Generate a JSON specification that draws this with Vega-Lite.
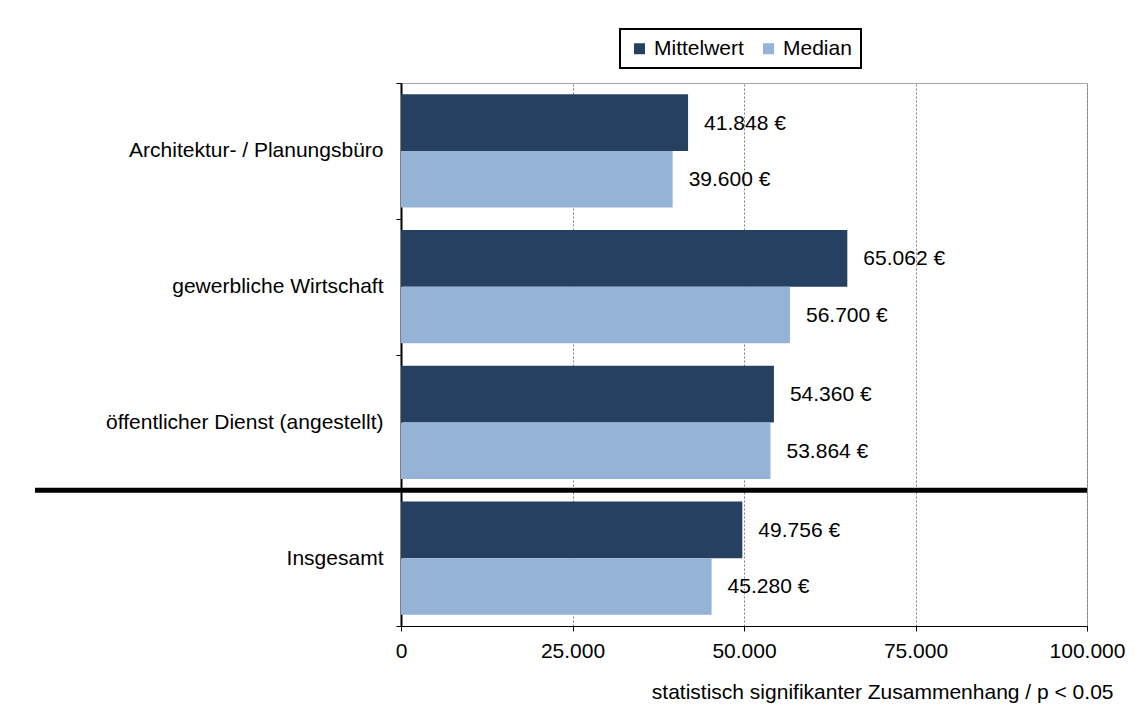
{
  "$schema": "https://vega.github.io/schema/vega-lite/v6.json",
  "autosize": "none",
  "width": 686,
  "height": 543,
  "padding": {"left": 401, "top": 83, "right": 54, "bottom": 89},
  "background": "white",
  "config": {
    "locale": {"number": {"decimal": ",", "thousands": ".", "grouping": [3], "currency": ["", " €"]}},
    "font": "Liberation Sans",
    "view": {"stroke": "#a6a6a6", "strokeWidth": 1},
    "legend": {"strokeColor": "black", "strokeWidth": 2}
  },
  "datasets": {
    "werte": [
      {"Kategorie": "Architektur- / Planungsbüro", "Kennwert": "Mittelwert", "Wert": 41848},
      {"Kategorie": "Architektur- / Planungsbüro", "Kennwert": "Median", "Wert": 39600},
      {"Kategorie": "gewerbliche Wirtschaft", "Kennwert": "Mittelwert", "Wert": 65062},
      {"Kategorie": "gewerbliche Wirtschaft", "Kennwert": "Median", "Wert": 56700},
      {"Kategorie": "öffentlicher Dienst (angestellt)", "Kennwert": "Mittelwert", "Wert": 54360},
      {"Kategorie": "öffentlicher Dienst (angestellt)", "Kennwert": "Median", "Wert": 53864},
      {"Kategorie": "Insgesamt", "Kennwert": "Mittelwert", "Wert": 49756},
      {"Kategorie": "Insgesamt", "Kennwert": "Median", "Wert": 45280}
    ],
    "trenner": [
      {"Kategorie": "Insgesamt", "von": -53350, "bis": 100000}
    ]
  },
  "layer": [
    {
      "data": {"name": "werte"},
      "mark": {"type": "bar"},
      "encoding": {
        "y": {
          "field": "Kategorie", "type": "nominal",
          "sort": ["Architektur- / Planungsbüro", "gewerbliche Wirtschaft", "öffentlicher Dienst (angestellt)", "Insgesamt"],
          "scale": {"paddingInner": 0, "paddingOuter": 0},
          "axis": {
            "title": null,
            "tickBand": "extent",
            "domainColor": "black", "domainWidth": 2,
            "tickColor": "black", "tickSize": 5, "tickWidth": 1,
            "labelFontSize": 21, "labelColor": "black", "labelPadding": 13,
            "labelFont": "Liberation Sans", "labelLimit": 400
          }
        },
        "yOffset": {
          "field": "Kennwert", "type": "nominal",
          "sort": ["Mittelwert", "Median"],
          "scale": {"paddingInner": 0, "paddingOuter": 0.2}
        },
        "x": {
          "field": "Wert", "type": "quantitative",
          "scale": {"domain": [0, 100000], "nice": false},
          "axis": {
            "values": [0, 25000, 50000, 75000, 100000],
            "format": ",.0f",
            "labelFlush": false,
            "grid": true, "gridColor": "#808080", "gridDash": [2, 2], "gridWidth": 1,
            "domainColor": "black", "domainWidth": 1,
            "tickColor": "black", "tickSize": 5,
            "labelFontSize": 21, "labelColor": "black", "labelPadding": 9,
            "labelFont": "Liberation Sans",
            "title": "statistisch signifikanter Zusammenhang / p < 0.05",
            "titleFont": "Liberation Sans", "titleFontSize": 21, "titleFontWeight": "normal",
            "titleColor": "black", "titleAnchor": "end", "titleAlign": "right",
            "titleBaseline": "middle", "titleX": 712, "titleY": 66
          }
        },
        "color": {
          "field": "Kennwert", "type": "nominal",
          "scale": {"domain": ["Mittelwert", "Median"], "range": ["#264061", "#95b3d7"]},
          "legend": {
            "title": null, "orient": "none", "direction": "horizontal",
            "legendX": 219, "legendY": -54,
            "padding": 9,
            "symbolType": "square", "symbolSize": 121, "symbolStrokeWidth": 0,
            "labelFontSize": 21, "labelColor": "black", "labelFont": "Liberation Sans",
            "labelOffset": 4, "columnPadding": 14
          }
        }
      }
    },
    {
      "data": {"name": "werte"},
      "mark": {"type": "text", "align": "left", "baseline": "middle", "dx": 16, "dy": 1, "fontSize": 21, "color": "black", "font": "Liberation Sans"},
      "encoding": {
        "y": {
          "field": "Kategorie", "type": "nominal",
          "sort": ["Architektur- / Planungsbüro", "gewerbliche Wirtschaft", "öffentlicher Dienst (angestellt)", "Insgesamt"]
        },
        "yOffset": {"field": "Kennwert", "type": "nominal", "sort": ["Mittelwert", "Median"]},
        "x": {"field": "Wert", "type": "quantitative"},
        "text": {"field": "Wert", "type": "quantitative", "format": "$,.0f"}
      }
    },
    {
      "data": {"name": "trenner"},
      "mark": {"type": "rule", "color": "black", "strokeWidth": 5, "clip": false},
      "encoding": {
        "y": {
          "field": "Kategorie", "type": "nominal",
          "sort": ["Architektur- / Planungsbüro", "gewerbliche Wirtschaft", "öffentlicher Dienst (angestellt)", "Insgesamt"],
          "bandPosition": 0
        },
        "x": {"field": "von", "type": "quantitative"},
        "x2": {"field": "bis"}
      }
    }
  ]
}
